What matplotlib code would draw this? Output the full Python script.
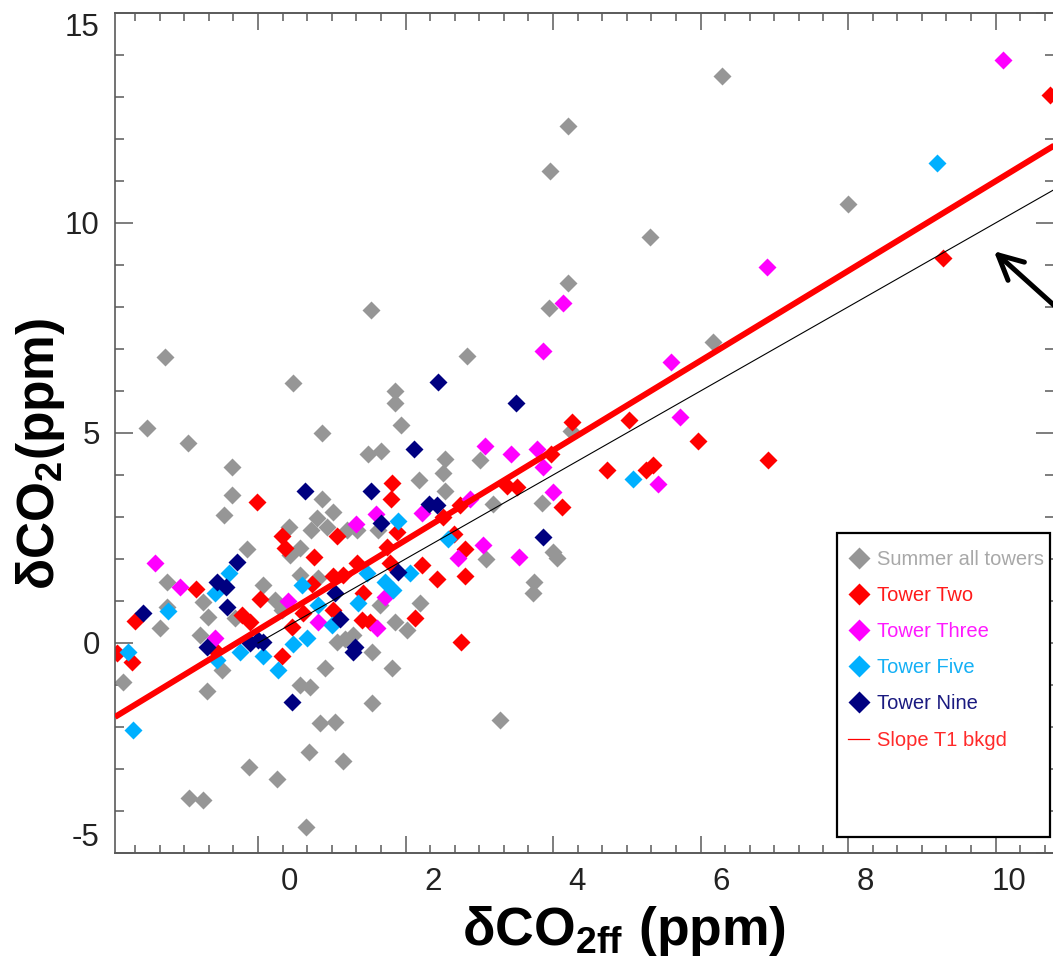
import matplotlib
matplotlib.use('Agg')
import matplotlib.pyplot as plt
from matplotlib import font_manager
from matplotlib.lines import Line2D
from matplotlib.patches import Rectangle
from matplotlib.ticker import MultipleLocator, NullLocator
import numpy as np

names = {f.name for f in font_manager.fontManager.ttflist}
base_font = 'Liberation Sans' if 'Liberation Sans' in names else 'DejaVu Sans'
narrow_font = 'Liberation Sans Narrow' if 'Liberation Sans Narrow' in names else base_font

plt.rcParams['font.family'] = [base_font, 'DejaVu Sans']
plt.rcParams['mathtext.fontset'] = 'custom'
plt.rcParams['mathtext.bf'] = f'{narrow_font}:bold'
plt.rcParams['mathtext.rm'] = f'{narrow_font}:bold'
plt.rcParams['mathtext.it'] = f'{narrow_font}:bold'

# ---------------- data ----------------
gray_x = [6.01, 3.88, 3.63, 7.76, 5.01, 5.89, 3.88, 3.61, 1.14, 2.47, -1.72, 0.06, -1.97, 0.46,
          -1.40, 1.47, 1.47, 1.56, 1.28, 1.10, -0.79, 2.17, 2.14, 2.17, 3.92, 1.81, -0.79, 0.46,
          -0.90, 0.61, 0.00, 0.39, 0.53, 0.31, -0.58, 0.15, 0.01, 0.81, 0.94, 1.24, -1.69, -0.36,
          0.15, 0.40, -1.79, -1.69, -1.19, -1.13, -1.24, -2.31, -1.14, -0.93, -0.75, -0.19, -0.10,
          0.67, 0.78, 1.15, 1.47, 1.64, 1.82, 1.26, 0.50, 1.43, 0.15, 0.29, 1.15, 0.43, 0.64,
          0.28, 0.75, -0.56, -0.17, -1.39, -1.19, 0.24, 2.93, 2.65, 2.83, 3.51, 2.74, 3.67, 3.72,
          3.40, 3.39, 0.89]
gray_y = [13.49, 12.30, 11.24, 10.45, 9.67, 7.17, 8.57, 7.98, 7.93, 6.84, 6.82, 6.20, 5.13, 5.01,
          4.77, 6.01, 5.72, 5.18, 4.58, 4.51, 4.18, 4.39, 4.04, 3.63, 5.04, 3.87, 3.52, 3.44,
          3.04, 3.11, 2.76, 2.97, 2.76, 2.68, 2.23, 2.26, 2.09, 2.68, 2.68, 2.68, 1.45, 1.38,
          1.62, 1.54, 0.36, 0.86, 0.97, 0.62, 0.19, -0.93, -1.14, -0.64, 0.59, 1.02, 0.78,
          0.02, 0.10, -0.21, 0.50, 0.31, 0.95, 0.90, -0.59, -0.59, -1.00, -1.05, -1.43, -1.90, -1.88,
          -2.59, -2.80, -2.95, -3.23, -3.68, -3.73, -4.39, -1.83, 4.35, 3.30, 3.33, 2.00, 2.16, 2.02,
          1.45, 1.19, 0.19]

red_x = [10.57, 9.08, 6.65, 5.68, 4.72, 3.93, 4.42, 4.96, 5.06, 3.64, 3.79, 3.03, 3.17, 2.38,
         2.14, 2.29, 2.44, 2.44, 2.06, 1.85, 1.75, 2.39, 1.43, 1.42, 1.50, 1.36, 1.40, 0.94,
         0.75, 0.61, 0.67, 0.35, 0.32, -0.10, -0.06, -0.44, -1.29, -0.40, -0.65, -0.54, 0.19,
         0.04, -0.10, 0.61, 1.03, 1.13, 1.01, -2.14, -2.39, -2.18, -1.03]
red_y = [13.04, 9.17, 4.35, 4.80, 5.30, 5.27, 4.11, 4.11, 4.23, 4.49, 3.25, 3.75, 3.71, 3.28,
         2.99, 2.59, 2.23, 1.59, 1.52, 1.85, 0.59, 0.02, 3.80, 3.42, 2.64, 2.28, 1.90, 1.90,
         1.62, 1.59, 2.54, 2.04, 1.40, 2.54, 2.26, 3.35, 1.28, 1.05, 0.67, 0.50, 0.71,
         0.38, -0.31, 0.78, 1.19, 0.50, 0.55, 0.52, -0.24, -0.45, -0.17]

magenta_x = [9.92, 6.64, 5.31, 5.43, 5.13, 3.81, 3.53, 3.44, 3.53, 3.67, 3.19, 2.72, 3.08, 2.51,
             2.69, 2.35, 1.85, 1.21, 0.93, -1.86, -1.51, -1.03, -0.01, 0.40, 1.22, 1.33]
magenta_y = [13.87, 8.95, 6.70, 5.39, 3.78, 8.10, 6.96, 4.63, 4.20, 3.59, 2.04, 4.70, 4.51, 3.42,
             2.33, 2.02, 3.09, 3.06, 2.83, 1.90, 1.33, 0.12, 1.00, 0.50, 0.36, 1.09]

cyan_x = [9.00, 4.78, 2.21, 1.68, 1.51, 1.33, 1.44, 1.08, 0.96, 0.60, 0.40, 0.18, 0.25, 0.06,
          -0.15, -0.36, -0.68, -0.83, -1.03, -1.68, -2.24, -2.17, -1.00]
cyan_y = [11.43, 3.90, 2.47, 1.66, 2.90, 1.45, 1.26, 1.66, 0.95, 0.43, 0.90, 1.38, 0.12, -0.02,
          -0.64, -0.31, -0.21, 1.66, 1.19, 0.76, -0.21, -2.07, -0.40]

navy_x = [2.07, 3.15, 1.74, 0.22, 1.14, 1.28, 1.94, 2.06, 3.53, 1.51, 0.64, 0.71, 0.92, 0.89,
          -0.54, -0.36, -0.43, -0.72, -1.00, -0.88, -0.86, -1.14, -2.03, 0.04]
navy_y = [6.22, 5.72, 4.63, 3.61, 3.61, 2.85, 3.30, 3.28, 2.52, 1.69, 1.19, 0.57, -0.10, -0.21,
          0.00, 0.02, 0.07, 1.92, 1.45, 1.33, 0.86, -0.10, 0.71, -1.40]

series_labels = ['Summer all towers', 'Tower Two', 'Tower Three', 'Tower Five', 'Tower Nine']
series_colors = ['#969696', '#ff0000', '#ff00ff', '#00b0ff', '#000080']
text_colors = ['#a8a8a8', '#ff1a1a', '#ff1aff', '#14b0f5', '#1a1a80', '#ff2a2a']
line_label = 'Slope T1 bkgd'

fit_slope = 1.043
fit_intercept = 0.76

x_ticks = [0, 2, 4, 6, 8, 10]
y_ticks = [-5, 0, 5, 10, 15]
y_ticklabels = ['-5', '0', '5', '10', '15']

# mapping between the labelled scale and the scale of the tick marks
def to_tick(x):
    return (72.0 * np.asarray(x) + 31.0) / 73.75

def from_tick(t):
    return (73.75 * np.asarray(t) - 31.0) / 72.0

# ---------------- figure ----------------
W, H = 1053, 964
fig = plt.figure(figsize=(W / 100, H / 100), dpi=100)
ax = fig.add_axes([115 / W, 1 - 853 / H, 939 / W, 840 / H])
xlim = (-2.4167, 10.625)
ax.set_xlim(*xlim)
ax.set_ylim(-5, 15)

spine_c = '#5a5a5a'
lab_c = '#222222'

all_x = [gray_x, red_x, magenta_x, cyan_x, navy_x]
all_y = [gray_y, red_y, magenta_y, cyan_y, navy_y]
for xs, ys, c in zip(all_x, all_y, series_colors):
    ax.plot(xs, ys, ls='none', marker='D', ms=9, mfc=c, mec='none', zorder=2)

# regression line
xx = np.array(xlim)
ax.plot(xx, fit_slope * xx + fit_intercept, color='#ff0000', lw=4.3, zorder=3,
        solid_capstyle='butt')
# 1:1 line (in the scale of the tick marks)
x0 = float(from_tick(0.0))
xl = np.array([x0, xlim[1]])
ax.plot(xl, to_tick(xl), color='black', lw=0.8, zorder=3)

# arrow
ax.annotate('', xy=(9.79, 9.33), xytext=(11.3, 7.0), xycoords='data',
            arrowprops=dict(arrowstyle='->', lw=3.6, color='black', mutation_scale=44,
                            shrinkA=0, shrinkB=0),
            annotation_clip=False, zorder=6)

# spines
for s in ax.spines.values():
    s.set_color(spine_c)
    s.set_linewidth(1.2)

# y axis ticks
ax.set_yticks(y_ticks)
ax.set_yticklabels(y_ticklabels)
ax.yaxis.set_minor_locator(MultipleLocator(1))
ax.tick_params(axis='y', which='major', direction='in', length=13, width=1.1, color=spine_c,
               left=True, right=True, labelsize=22.5, labelcolor=lab_c, pad=11)
ax.tick_params(axis='y', which='minor', direction='in', length=6.5, width=1.1, color=spine_c,
               left=True, right=True)
yl = ax.get_yticklabels()
yl[-1].set_va('top')
yl[0].set_va('bottom')

# x axis: labels only on the main axis
ax.set_xticks(x_ticks)
ax.set_xticklabels([str(v) for v in x_ticks])
ax.xaxis.set_minor_locator(NullLocator())
ax.tick_params(axis='x', which='major', length=0, labelsize=22.5, labelcolor=lab_c, pad=10)

# tick marks of x axis (bottom and top)
for loc in ('bottom', 'top'):
    sec = ax.secondary_xaxis(loc, functions=(to_tick, from_tick))
    sec.set_xticks([0, 2, 4, 6, 8, 10])
    sec.xaxis.set_minor_locator(MultipleLocator(1 / 3))
    sec.tick_params(which='major', direction='in', length=12.5, width=1.1, color=spine_c,
                    labelbottom=False, labeltop=False)
    sec.tick_params(which='minor', direction='in', length=6, width=1.1, color=spine_c)
    for s in sec.spines.values():
        s.set_color(spine_c)
        s.set_linewidth(1.2)

# axis labels
ax.set_xlabel(r'$\mathbf{δCO_{2ff}\ (ppm)}$', fontsize=38.5, va='center', color='black')
ax.xaxis.set_label_coords(0.542, -0.093)
ax.set_ylabel(r'$\mathbf{δCO_{2}(ppm)}$', fontsize=37, va='center', color='black')
ax.yaxis.set_label_coords(-0.079, 0.475)

# legend
ax.add_patch(Rectangle((0.7689, 0.019), 0.2268, 0.362, transform=ax.transAxes,
                       facecolor='white', edgecolor='black', lw=1.6, zorder=4))
handles = [Line2D([], [], ls='none', marker='D', ms=11, mfc=c, mec='none') for c in series_colors]
handles.append(Line2D([], [], color='#ff0000', lw=0.9))
leg = ax.legend(handles, series_labels + [line_label], loc='upper left',
                bbox_to_anchor=(0.7806, 0.3607), frameon=False, borderpad=0,
                borderaxespad=0, handlelength=1.05, handletextpad=0.4, labelspacing=0.85,
                fontsize=14.5)
leg.set_zorder(5)
for t, c in zip(leg.get_texts(), text_colors):
    t.set_color(c)

fig.savefig('out.png', dpi=100)
